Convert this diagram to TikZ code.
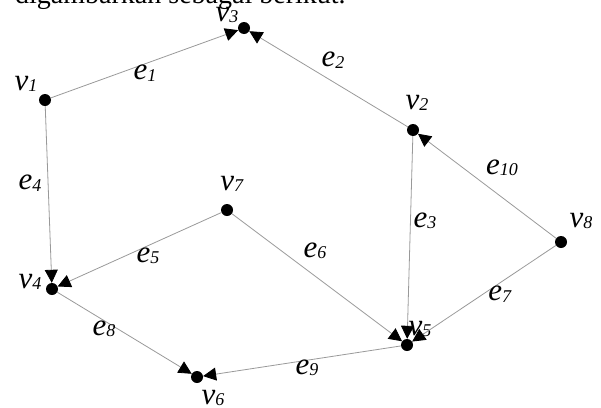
\documentclass[tikz,border=0pt]{standalone}
\usepackage{fontspec}
\setmainfont{Liberation Serif}
\usetikzlibrary{arrows.meta}
\newcommand{\lbl}[2]{\textit{#1}\raisebox{-1.5pt}{\fontsize{18}{18}\selectfont\textit{#2}}}
\begin{document}
\begin{tikzpicture}[x=1pt,y=-1pt,
  vtx/.style={circle,fill=black,draw=none,inner sep=0pt,minimum size=12pt},
  lab/.style={inner sep=0pt,font=\fontsize{31}{31}\selectfont},
  edge/.style={draw=black!40,line width=0.8pt},
  arc/.style={edge,-{Triangle[length=13pt,width=13pt,fill=black,color=black]}}]
\useasboundingbox (0,0) rectangle (601,407);
\clip (0,0) rectangle (601,407);
% running text line above the graph
\node[anchor=base west,inner sep=0pt,font=\fontsize{28}{28}\selectfont] (txt) at (15,3) {digambarkan sebagai berikut.};
% vertices
\node[vtx] (v1) at (45,100) {};
\node[vtx] (v3) at (244,28) {};
\node[vtx] (v2) at (413,130) {};
\node[vtx] (v8) at (561,242) {};
\node[vtx] (v7) at (227,210) {};
\node[vtx] (v4) at (52,289) {};
\node[vtx] (v5) at (407,345) {};
\node[vtx] (v6) at (197,377) {};
% vertex labels
\node[lab] (n1) at (26,84) {\lbl{v}{1}};
\node[lab] (n3) at (227,15) {\lbl{v}{3}};
\node[lab] (n2) at (417,103) {\lbl{v}{2}};
\node[lab] (n8) at (581,221) {\lbl{v}{8}};
\node[lab] (n7) at (232,184) {\lbl{v}{7}};
\node[lab] (n4) at (30,282) {\lbl{v}{4}};
\node[lab] (n5) at (420,329) {\lbl{v}{5}};
\node[lab] (n6) at (213,398) {\lbl{v}{6}};
% arcs
\draw[arc] (v1) -- (v3);
\draw[arc] (v2) -- (v3);
\draw[arc] (v8) -- (v2);
\draw[arc] (v2) -- (v5);
\draw[arc] (v1) -- (v4);
\draw[arc] (v7) -- (v4);
\draw[arc] (v7) -- (v5);
\draw[arc] (v8) -- (v5);
\draw[arc] (v4) -- (v6);
\draw[arc] (v5) -- (v6);
% arc labels
\node[lab] (a1) at (145,73) {\lbl{e}{1}};
\node[lab] (a2) at (333,60) {\lbl{e}{2}};
\node[lab] (a10) at (502,168) {\lbl{e}{10}};
\node[lab] (a3) at (425,221) {\lbl{e}{3}};
\node[lab] (a4) at (30,183) {\lbl{e}{4}};
\node[lab] (a5) at (148,256) {\lbl{e}{5}};
\node[lab] (a6) at (315,251) {\lbl{e}{6}};
\node[lab] (a7) at (500,294) {\lbl{e}{7}};
\node[lab] (a8) at (104,329) {\lbl{e}{8}};
\node[lab] (a9) at (307,368) {\lbl{e}{9}};
\end{tikzpicture}
\end{document}
